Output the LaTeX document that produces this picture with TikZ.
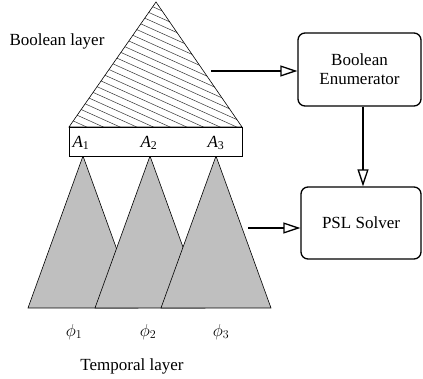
\documentclass[tikz,border=0pt]{standalone}
\usepackage{fontspec}
\setmainfont{Liberation Serif}
\usetikzlibrary{arrows.meta}
\tikzset{
  thinline/.style={draw=black, line width=0.6pt},
  hatch/.style={draw=black!80, line width=0.5pt},
  temporal/.style={thinline, fill=black!25},
  procbox/.style={draw=black, line width=1.3pt, rounded corners=7pt, align=center, inner sep=0pt},
  flow/.style={draw=black, line width=1.3pt, -{Triangle[open, length=17pt, width=11pt, line width=1.3pt]}},
  lbl/.style={inner sep=0pt}
}
\begin{document}
\begin{tikzpicture}[x=1pt,y=-1pt, font=\fontsize{17}{20}\selectfont]
\useasboundingbox (0,0) rectangle (423,379);
% temporal triangles
\draw[temporal] (83,156) -- (138,308) -- (28,308) -- cycle;
\draw[temporal] (150,156) -- (205,308) -- (95,308) -- cycle;
\draw[temporal] (216,156) -- (271,308) -- (161,308) -- cycle;
% boolean triangle with hatching
\begin{scope}
  \clip (156,2) -- (242,127) -- (69,127) -- cycle;
  \foreach \c in {-95,-87.5,...,135} \draw[hatch] (60,\c) -- (250,\c+85.5);
\end{scope}
\draw[thinline] (156,2) -- (242,127) -- (69,127) -- cycle;
% atom rectangle
\draw[thinline, fill=white] (69,127) rectangle (242,156);
\node[lbl] (a1) at (81,143) {\textit{A}\textsubscript{1}};
\node[lbl] (a2) at (149,143) {\textit{A}\textsubscript{2}};
\node[lbl] (a3) at (216,143) {\textit{A}\textsubscript{3}};
% labels
\node[lbl] (bl) at (57,41) {Boolean layer};
\node[lbl] (p1) at (74,332) {$\phi_1$};
\node[lbl] (p2) at (148,332) {$\phi_2$};
\node[lbl] (p3) at (221,332) {$\phi_3$};
\node[lbl] (tl) at (132,366) {Temporal layer};
% boxes
\node[procbox, minimum width=123pt, minimum height=73pt] (be) at (359.5,69.5) {Boolean\\[-1pt]Enumerator};
\node[procbox, minimum width=120pt, minimum height=72pt] (ps) at (361,223) {PSL Solver};
% arrows
\coordinate (s1) at (211,71);
\coordinate (s2) at (248,228);
\draw[flow] (s1) -- (s1 -| be.west);
\draw[flow] (be.south -| 363,0) -- (ps.north -| 363,0);
\draw[flow] (s2) -- (s2 -| ps.west);
\end{tikzpicture}
\end{document}
